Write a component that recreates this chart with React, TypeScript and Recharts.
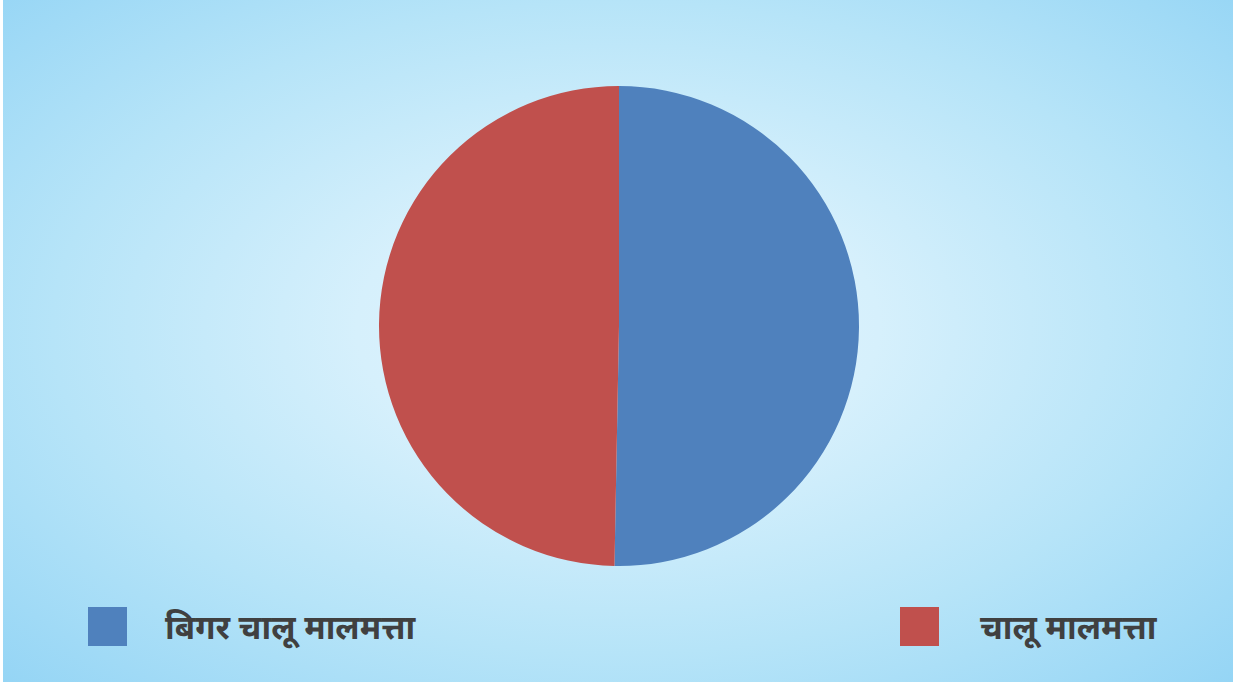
import { Cell, Legend, Pie, PieChart } from "recharts";

const CATEGORIES = ["बिगर चालू मालमत्ता", "चालू मालमत्ता"];
const SHARES = [50.3, 49.7];
const COLORS = ["#4f81bd", "#c0504d"];

const data = CATEGORIES.map((name, i) => ({ name, value: SHARES[i] }));

const LEGEND_LEFT = [85, 897];

function renderLegend(props: any) {
  const items = [...(props.payload ?? [])].sort(
    (a: any, b: any) => CATEGORIES.indexOf(a.value) - CATEGORIES.indexOf(b.value)
  );
  return (
    <div style={{ position: "relative", width: 1230, height: 40 }}>
      {items.map((entry: any, i: number) => (
        <div
          key={`legend-${i}`}
          style={{
            position: "absolute",
            left: LEGEND_LEFT[i],
            top: 0,
            display: "flex",
            alignItems: "center",
            height: 39,
          }}
        >
          <span
            style={{
              display: "inline-block",
              width: 39,
              height: 39,
              background: entry.color,
            }}
          />
          <span
            style={{
              marginLeft: i === 0 ? 38 : 41,
              fontSize: 33,
              fontWeight: 700,
              color: "#404040",
              fontFamily: "'Noto Sans', sans-serif",
              whiteSpace: "nowrap",
            }}
          >
            {entry.value}
          </span>
        </div>
      ))}
    </div>
  );
}

export default function App() {
  return (
    <div
      style={{
        position: "absolute",
        left: 0,
        top: 0,
        width: 1233,
        height: 685,
        background: "#ffffff",
      }}
    >
      <div
        style={{
          position: "absolute",
          left: 3,
          top: 0,
          width: 1230,
          height: 682,
          background:
            "radial-gradient(ellipse at 50% 48%, #e2f4fd 0%, #d6f0fc 30%, #b6e4f8 65%, #95d5f5 100%)",
        }}
      >
        <PieChart
          width={1230}
          height={682}
          margin={{ top: 0, right: 0, bottom: 0, left: 0 }}
        >
          <Pie
            data={data}
            dataKey="value"
            nameKey="name"
            cx={616}
            cy={326}
            outerRadius={240}
            startAngle={90}
            endAngle={-270}
            stroke="none"
            isAnimationActive={false}
          >
            {data.map((entry, index) => (
              <Cell key={`cell-${index}`} fill={COLORS[index]} />
            ))}
          </Pie>
          <Legend
            content={renderLegend}
            wrapperStyle={{ left: 0, top: 607, width: 1230 }}
          />
        </PieChart>
      </div>
    </div>
  );
}
